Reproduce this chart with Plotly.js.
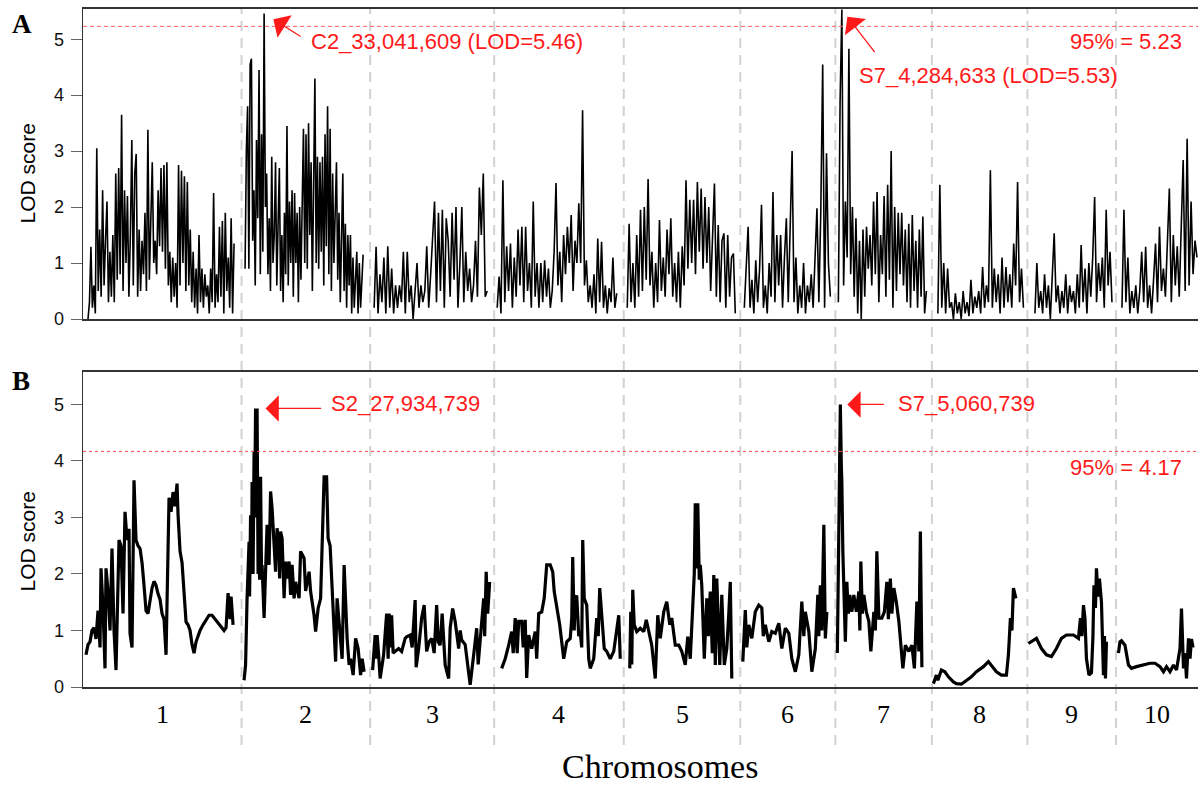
<!DOCTYPE html>
<html><head><meta charset="utf-8">
<script src="https://cdn.plot.ly/plotly-3.0.1.min.js"></script>
<style>html,body{margin:0;padding:0;background:#fff}#chart{width:1198px;height:788px}</style>
</head><body><div id="chart"></div>
<script>
// ---------------- DATA ----------------
const chromosomes = ['1','2','3','4','5','6','7','8','9','10'];
const chromLengthMb = [317,257,248,259,233,190,193,191,177,164];
// Panel A: markers evenly spread between first and last marker position (Mb within chromosome)
const firstMarkerA = [10,7,8,6,7,8,6,12,15,12];
const lastMarkerA  = [302,243,234,245,223,180,182,183,169,162];

const lodA_chr1 = [0.0,0.3,1.29,0.2,0.6,0.1,3.05,0.5,1.6,0.4,2.3,0.6,1.4,2.1,0.3,1.2,0.4,1.5,0.3,2.6,0.7,2.7,0.8,3.65,0.5,2.3,1.0,2.2,0.4,1.5,3.2,0.6,2.6,2.95,0.4,1.6,0.5,1.4,0.8,1.9,0.5,3.38,0.7,2.0,2.8,1.0,1.4,0.8,2.3,1.3,2.7,1.2,2.75,0.9,2.8,0.6,1.2,0.3,1.1,0.4,1.0,0.2,2.75,0.6,2.65,1.0,2.55,0.5,2.45,0.6,1.6,0.3,1.2,0.2,0.9,0.1,1.5,0.3,0.9,0.2,0.8,0.4,0.6,0.1,0.9,0.3,2.25,0.2,0.8,0.3,1.65,0.4,1.75,0.1,1.9,0.5,1.1,0.2,1.8,0.1,1.35];
const lodA_chr2 = [0.9,3.0,3.8,0.9,4.55,4.65,1.4,2.3,0.6,3.2,1.8,4.45,0.8,3.3,1.2,5.46,2.0,2.6,0.8,1.8,0.5,2.9,1.0,1.5,2.8,0.6,1.7,2.7,0.5,1.5,0.3,1.9,0.8,3.45,0.6,2.1,1.0,2.3,0.4,2.25,1.0,1.9,0.3,2.0,0.7,1.8,3.4,1.0,3.3,0.9,3.5,1.5,2.8,0.5,2.7,4.3,1.0,2.9,0.9,2.8,1.2,2.9,0.6,3.3,1.3,3.8,0.8,3.4,0.5,2.6,1.0,2.0,2.8,0.7,1.9,0.3,1.3,2.6,0.5,1.7,0.2,1.5,0.6,1.5,0.1,1.1,0.2,0.9,1.2,0.1,1.0,0.2,0.6,1.15];
const lodA_chr3 = [0.2,1.29,0.1,0.8,0.3,1.1,0.1,1.3,0.2,0.9,0.1,0.6,0.2,0.6,0.3,1.2,0.1,1.2,0.3,0.6,0.0,0.6,1.0,0.2,0.6,0.3,0.5,1.3,0.2,0.8,1.4,2.1,0.3,1.9,0.5,1.95,0.2,1.8,1.4,0.4,1.9,0.7,2.0,0.2,1.0,2.0,0.3,1.2,0.5,0.9,0.3,0.6,1.4,0.4,2.35,1.5,2.6,0.4,0.5];
const lodA_chr4 = [0.2,0.76,0.1,2.48,0.3,1.3,0.5,1.35,0.2,1.1,0.4,1.6,0.6,1.65,0.3,1.65,0.5,1.0,0.2,2.1,0.4,1.0,0.2,1.0,0.3,1.05,0.4,0.9,0.2,0.5,1.2,2.43,0.6,1.2,0.3,1.5,0.8,1.65,1.0,1.86,0.5,1.4,1.0,2.07,1.0,3.73,0.6,1.05,0.3,0.6,0.2,0.8,0.1,1.44,0.3,1.38,0.2,0.6,0.1,0.55,0.3,1.1,0.2,0.46];
const lodA_chr5 = [0.2,1.7,0.3,1.0,0.2,1.5,0.4,1.95,0.5,2.0,0.7,2.5,0.6,1.2,0.2,1.0,0.3,1.77,0.5,1.1,0.4,1.6,0.8,1.8,0.4,1.0,0.3,1.2,0.2,1.3,0.6,2.48,0.9,2.13,1.0,2.13,0.8,2.45,1.2,2.33,0.9,2.18,1.0,2.0,0.5,1.6,2.42,0.4,1.68,0.3,1.4,1.53,0.2,1.5,0.4,1.1,1.17,0.1];
const lodA_chr6 = [0.2,0.9,1.65,0.2,0.7,0.1,1.05,0.3,0.9,2.04,0.2,0.6,0.1,1.0,0.4,2.27,0.3,1.5,0.6,1.5,0.2,1.1,1.8,0.3,1.6,3.0,0.3,1.1,0.1,0.6,0.2,1.0,0.1,0.6,0.3,0.8,0.2,1.3,1.98,0.3,1.9,4.55,0.2,2.96,1.0,0.4];
const lodA_chr7 = [0.3,3.9,5.53,0.6,2.1,1.1,4.83,0.8,2.0,0.4,1.8,0.1,1.4,0.0,1.6,0.4,1.65,0.9,1.5,0.6,2.1,0.8,2.27,0.3,1.5,0.8,2.2,0.4,2.4,0.7,3.0,0.2,2.0,0.5,1.9,0.8,1.9,0.6,1.6,0.3,1.7,0.2,1.86,0.5,1.4,0.2,1.6,0.4,1.83,0.1,0.5];
const lodA_chr8 = [0.1,2.4,0.2,1.0,0.1,0.9,0.2,0.3,0.0,0.46,0.1,0.3,0.0,0.5,0.1,0.3,0.05,0.7,0.1,0.4,0.2,0.5,0.1,0.93,0.2,0.6,0.3,2.66,0.2,0.9,0.3,0.8,0.1,1.1,0.2,0.93,0.3,0.8,0.2,1.35,0.6,2.45,0.3,0.9,0.2];
const lodA_chr9 = [0.1,1.0,0.2,0.5,0.1,0.8,0.2,0.6,0.0,0.9,1.53,0.3,0.6,0.1,0.5,0.2,0.8,0.1,0.6,0.3,0.5,0.1,0.8,0.2,1.32,0.3,0.9,0.1,1.0,0.4,1.1,2.18,0.3,1.0,0.5,1.1,0.2,1.95,0.6,1.2,0.3];
const lodA_chr10 = [0.2,1.95,0.3,1.1,0.1,0.5,0.2,0.6,0.1,0.5,1.2,0.3,1.29,0.2,0.6,0.1,0.7,1.35,0.3,1.65,0.5,0.9,0.4,1.32,2.33,0.3,1.5,0.6,1.3,0.4,1.83,2.84,0.5,3.22,0.6,2.1,0.8,1.4,1.1];

// Panel B: [position (Mb within chromosome), LOD]
const lodB_chr1 = [[6,0.57],[10,0.75],[14,0.8],[18,1.0],[22,1.05],[26,0.85],[30,1.35],[34,0.7],[36,2.1],[40,1.4],[44,0.33],[46,2.1],[50,1.7],[54,1.0],[58,2.45],[62,1.0],[66,0.3],[70,1.8],[72,2.6],[76,2.5],[80,1.3],[84,3.1],[88,2.6],[92,2.8],[94,0.95],[98,0.7],[102,3.66],[106,2.6],[110,2.5],[114,2.45],[118,2.2],[122,1.8],[126,1.35],[130,1.3],[134,1.55],[138,1.75],[142,1.87],[146,1.8],[150,1.65],[154,1.55],[158,1.3],[162,1.2],[166,0.57],[170,2.4],[172,3.35],[176,3.1],[180,3.45],[184,3.2],[188,3.6],[190,3.05],[194,2.4],[198,2.2],[202,1.6],[206,1.15],[210,1.1],[214,1.0],[218,0.75],[222,0.6],[226,0.8],[230,0.9],[234,1.0],[240,1.1],[246,1.2],[252,1.27],[258,1.27],[264,1.2],[270,1.12],[276,1.05],[282,1.0],[286,1.05],[290,1.66],[294,1.2],[296,1.6],[300,1.1]];
const lodB_chr2 = [[5,0.12],[8,0.39],[11,1.57],[15,2.57],[16,1.6],[18,3.04],[20,2.0],[21,3.63],[23,2.0],[25,4.17],[26,3.0],[28,4.93],[30,3.2],[31,4.93],[33,2.0],[35,3.72],[36,1.9],[38,3.72],[40,1.9],[41,2.16],[45,1.22],[48,2.16],[51,2.87],[55,2.16],[58,3.46],[61,3.16],[65,2.4],[68,2.04],[71,2.81],[75,2.4],[76,1.92],[78,2.75],[81,2.63],[85,1.57],[88,2.22],[91,1.92],[95,2.22],[98,1.63],[101,2.16],[105,1.57],[108,1.86],[115,1.57],[118,2.4],[125,2.28],[128,1.7],[131,1.86],[135,2.04],[138,1.69],[145,1.27],[148,0.98],[153,1.39],[158,1.57],[161,2.57],[165,3.72],[170,3.72],[173,2.63],[177,2.5],[179,2.16],[183,1.57],[188,0.45],[191,1.57],[197,0.86],[201,0.5],[205,2.16],[208,1.57],[211,0.86],[215,0.39],[218,0.5],[223,0.21],[228,0.86],[233,0.68],[238,0.21],[241,0.5],[245,0.27]];
const lodB_chr3 = [[5,0.3],[10,0.92],[12,0.5],[14,0.92],[17,0.57],[20,0.15],[27,0.57],[33,1.3],[36,0.5],[38,1.3],[40,0.7],[43,1.27],[46,0.6],[50,0.63],[57,0.68],[63,0.63],[70,0.86],[73,0.89],[80,0.92],[84,0.7],[90,1.54],[92,0.35],[97,0.68],[103,1.22],[108,1.45],[113,0.63],[118,0.8],[123,0.86],[128,0.6],[133,1.45],[136,0.8],[140,0.74],[144,1.3],[150,0.39],[157,0.15],[160,1.04],[165,1.39],[170,1.16],[177,0.68],[180,1.0],[183,0.83],[190,0.75],[197,0.21],[200,0.04],[207,0.57],[213,1.04],[216,0.4],[220,0.8],[227,1.57],[229,0.9],[232,2.04],[235,1.3],[239,1.86]];
const lodB_chr4 = [[15,0.33],[22,0.5],[29,0.74],[35,0.98],[38,0.6],[42,1.22],[46,0.6],[49,1.16],[55,1.16],[58,0.7],[62,1.19],[65,0.16],[69,0.92],[75,0.68],[82,0.98],[85,0.5],[89,1.3],[95,1.33],[100,1.57],[105,2.16],[112,2.16],[117,2.04],[120,1.69],[125,1.45],[131,1.1],[135,0.8],[139,0.5],[145,0.8],[152,0.86],[155,1.2],[157,2.3],[160,1.0],[162,1.57],[165,1.62],[169,0.9],[172,0.98],[175,0.7],[177,2.6],[180,1.57],[185,1.45],[189,0.5],[192,0.33],[199,0.5],[205,1.22],[208,0.9],[211,1.75],[215,1.22],[220,0.68],[225,0.63],[232,0.5],[239,0.63],[245,1.04],[249,1.27],[252,0.5]];
const lodB_chr5 = [[12,0.33],[14,1.33],[16,0.4],[18,1.72],[21,1.1],[26,0.98],[33,1.04],[40,0.98],[45,1.19],[50,0.98],[56,0.74],[63,0.15],[68,1.27],[73,0.86],[80,1.33],[86,1.51],[92,1.1],[96,1.22],[103,0.74],[110,0.74],[116,0.63],[123,0.39],[128,0.89],[133,0.5],[138,1.51],[141,2.0],[143,3.25],[145,2.1],[148,3.25],[151,1.9],[153,2.16],[156,1.8],[161,0.5],[166,1.57],[169,0.9],[173,1.69],[177,0.6],[180,1.98],[183,0.39],[186,1.92],[192,0.39],[196,1.63],[201,0.39],[206,0.68],[210,1.3],[213,1.86],[216,0.15]];
const lodB_chr6 = [[5,0.45],[10,1.36],[13,0.7],[17,1.1],[23,0.86],[30,1.33],[37,1.45],[43,1.4],[46,0.9],[50,1.1],[57,0.8],[63,0.98],[70,0.95],[77,1.13],[83,0.68],[90,1.04],[97,0.95],[103,0.5],[110,0.27],[117,0.57],[123,1.51],[127,0.9],[130,1.33],[137,0.98],[143,0.27],[150,0.68],[155,1.63],[157,0.9],[160,1.8],[163,1.0],[167,2.87],[170,0.86],[173,1.33]];
const lodB_chr7 = [[4,0.6],[7,2.75],[10,5.0],[12,3.9],[13,3.63],[15,2.4],[17,1.8],[20,0.8],[23,1.86],[26,1.3],[29,1.63],[33,1.33],[37,1.63],[42,1.33],[47,1.69],[49,1.0],[51,2.22],[54,1.3],[57,1.63],[62,1.33],[67,1.16],[71,0.63],[77,1.33],[80,1.0],[83,2.4],[86,1.4],[87,1.22],[93,1.22],[98,1.33],[103,1.86],[106,1.2],[110,1.92],[113,1.3],[117,1.75],[122,1.5],[127,1.16],[131,0.8],[135,0.33],[140,0.74],[147,0.63],[153,0.74],[158,0.33],[163,1.51],[167,0.63],[170,2.75],[173,0.35]];
const lodB_chr8 = [[3,0.06],[6,0.15],[9,0.21],[12,0.12],[19,0.3],[26,0.27],[33,0.18],[43,0.09],[49,0.06],[59,0.05],[69,0.12],[79,0.18],[89,0.27],[103,0.36],[113,0.45],[119,0.39],[129,0.27],[139,0.21],[149,0.21],[153,0.57],[157,1.22],[160,1.0],[163,1.75],[168,1.57]];
const lodB_chr9 = [[2,0.77],[8,0.8],[18,0.86],[28,0.68],[38,0.57],[48,0.54],[58,0.68],[68,0.86],[78,0.92],[92,0.92],[102,0.86],[106,1.22],[109,0.9],[112,1.45],[115,1.22],[118,0.5],[123,0.21],[128,0.25],[131,0.9],[133,1.8],[136,1.4],[138,2.1],[141,1.6],[144,1.92],[148,1.5],[152,0.21],[154,0.9],[156,0.15],[158,0.8]];
const lodB_chr10 = [[5,0.6],[8,0.8],[11,0.82],[18,0.74],[25,0.39],[31,0.33],[41,0.36],[55,0.39],[68,0.42],[78,0.42],[88,0.36],[95,0.27],[101,0.36],[108,0.27],[115,0.39],[121,0.3],[128,0.68],[131,1.39],[135,0.33],[138,0.6],[141,0.15],[145,0.86],[148,0.5],[151,0.85],[154,0.7]];

const thresholdA = 5.23;
const thresholdB = 4.17;
const thresholdLabelA = '95% = 5.23';
const thresholdLabelB = '95% = 4.17';
const peakLabelsA = ['C2_33,041,609 (LOD=5.46)', 'S7_4,284,633 (LOD=5.53)'];
const peakLabelsB = ['S2_27,934,739', 'S7_5,060,739'];
const yTicks = [0,1,2,3,4,5];

// ---------------- BUILD ----------------
const lodA = [lodA_chr1,lodA_chr2,lodA_chr3,lodA_chr4,lodA_chr5,lodA_chr6,lodA_chr7,lodA_chr8,lodA_chr9,lodA_chr10];
const lodB = [lodB_chr1,lodB_chr2,lodB_chr3,lodB_chr4,lodB_chr5,lodB_chr6,lodB_chr7,lodB_chr8,lodB_chr9,lodB_chr10];
const offsets = [];
let acc = 0;
chromLengthMb.forEach(l => { offsets.push(acc); acc += l; });
const genomeLen = acc;

const ax = [], ay = [], bx = [], by = [];
const peaksA = {}, peaksB = {};
lodA.forEach((vals, c) => {
  const n = vals.length, f = firstMarkerA[c], l = lastMarkerA[c];
  let best = -1, bx0 = 0;
  vals.forEach((v, j) => {
    const x = offsets[c] + f + j * (l - f) / (n - 1);
    ax.push(x); ay.push(v);
    if (v > best) { best = v; bx0 = x; }
  });
  peaksA[c] = {x: bx0, y: best};
  ax.push(null); ay.push(null);
});
lodB.forEach((pts, c) => {
  let best = -1, bx0 = 0;
  pts.forEach(p => {
    const x = offsets[c] + p[0];
    bx.push(x); by.push(p[1]);
    if (p[1] > best) { best = p[1]; bx0 = x; }
  });
  peaksB[c] = {x: bx0, y: best};
  bx.push(null); by.push(null);
});

// pixel helpers for layout placement
const W = 1198, H = 788, ML = 83, MR = 0, MT = 9, MB = 101;
const PW = W - ML - MR, PH = H - MT - MB;
const pxX = p => (p - ML) / PW;
const pxY = p => (H - MB - p) / PH;

const sans = 'Liberation Sans, Arial, Helvetica, sans-serif';
const serif = 'Liberation Serif, Times New Roman, serif';
const red = '#ff1a1a';

const traces = [
  {x: ax, y: ay, xaxis: 'x', yaxis: 'y', type: 'scatter', mode: 'lines',
   line: {color: '#000', width: 1.6}, connectgaps: false, hoverinfo: 'skip'},
  {x: bx, y: by, xaxis: 'x2', yaxis: 'y2', type: 'scatter', mode: 'lines',
   line: {color: '#000', width: 3.2}, connectgaps: false, hoverinfo: 'skip'}
];

const shapes = [];
for (let c = 1; c < chromosomes.length; c++) {
  shapes.push({type: 'line', xref: 'x', yref: 'paper', x0: offsets[c], x1: offsets[c],
    y0: pxY(745), y1: 1, layer: 'below', line: {color: '#d2d2d2', width: 2, dash: '10px,7px'}});
}
shapes.push({type: 'line', xref: 'paper', yref: 'y', x0: 0, x1: 1, y0: thresholdA, y1: thresholdA,
  line: {color: '#ff5c5c', width: 1, dash: '4px,3px'}});
shapes.push({type: 'line', xref: 'paper', yref: 'y2', x0: 0, x1: 1, y0: thresholdB, y1: thresholdB,
  line: {color: '#ff4a4a', width: 1, dash: '3px,3px'}});

const txt = (text, px, py, opts = {}) => Object.assign({
  text, xref: 'paper', yref: 'paper', x: pxX(px), y: pxY(py),
  xanchor: 'left', yanchor: 'middle', showarrow: false,
  font: {family: sans, size: 22, color: red}
}, opts);

const arrow = (xref, yref, pk, dx, dy, standoff) => ({
  text: '', xref, yref, x: pk.x, y: pk.y, ax: dx, ay: dy, axref: 'pixel', ayref: 'pixel',
  showarrow: true, arrowhead: 1, arrowsize: 3.4, arrowwidth: 1.3, arrowcolor: red, standoff
});

const annotations = [
  txt(peakLabelsA[0], 309, 42),
  txt(peakLabelsA[1], 857, 75),
  txt(thresholdLabelA, 1068, 42),
  txt(peakLabelsB[0], 329, 403),
  txt(peakLabelsB[1], 896, 403),
  txt(thresholdLabelB, 1068, 467),
  arrow('x', 'y', peaksA[1], 38, 24, 11),
  arrow('x', 'y', peaksA[6], 34, 44, 9),
  arrow('x2', 'y2', peaksB[1], 67, 0, 10),
  arrow('x2', 'y2', peaksB[6], 45, 0, 7),
  txt('<b>A</b>', 22, 24, {xanchor: 'center', font: {family: serif, size: 27, color: '#000'}}),
  txt('<b>B</b>', 21, 381, {xanchor: 'center', font: {family: serif, size: 27, color: '#000'}}),
  txt('LOD score', 26.5, 174, {xanchor: 'center', textangle: -90, font: {family: sans, size: 21, color: '#000'}}),
  txt('LOD score', 26.5, 542, {xanchor: 'center', textangle: -90, font: {family: sans, size: 21, color: '#000'}}),
  txt('Chromosomes', 660, 766, {xanchor: 'center', font: {family: serif, size: 34, color: '#000'}})
];
chromosomes.forEach((name, c) => {
  annotations.push({text: name, xref: 'x2', yref: 'paper', x: offsets[c] + chromLengthMb[c] / 2,
    y: pxY(714), xanchor: 'center', yanchor: 'middle', showarrow: false,
    font: {family: serif, size: 26, color: '#000'}});
});

const yaxisBase = {
  tickvals: yTicks, ticktext: yTicks.map(String), ticks: 'outside', ticklen: 11, tickwidth: 1,
  tickcolor: '#666', ticklabelstandoff: 3,
  tickfont: {family: sans, size: 18, color: '#111'},
  showline: true, linecolor: '#333', linewidth: 1.5, showgrid: false, zeroline: false, fixedrange: true
};
const xaxisBase = {
  range: [0, genomeLen], showticklabels: false, ticks: '', showgrid: false, zeroline: false,
  showline: true, linecolor: '#333', linewidth: 2, mirror: true, fixedrange: true
};

const layout = {
  width: W, height: H,
  margin: {l: ML, r: MR, t: MT, b: MB, pad: 0},
  paper_bgcolor: '#fff', plot_bgcolor: 'rgba(0,0,0,0)',
  showlegend: false,
  xaxis: Object.assign({}, xaxisBase, {anchor: 'y'}),
  xaxis2: Object.assign({}, xaxisBase, {anchor: 'y2'}),
  yaxis: Object.assign({}, yaxisBase, {domain: [pxY(319), 1], range: [0, 5.54], anchor: 'x'}),
  yaxis2: Object.assign({}, yaxisBase, {domain: [0, pxY(371.7)], range: [0, 5.58], anchor: 'x2'}),
  shapes, annotations, hovermode: false
};

Plotly.newPlot('chart', traces, layout, {staticPlot: true, displayModeBar: false});
</script>
</body></html>
